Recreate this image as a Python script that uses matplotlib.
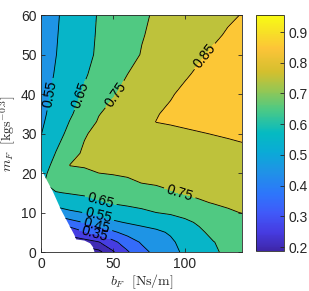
import numpy as np
import matplotlib
matplotlib.use("Agg")
import matplotlib.pyplot as plt
from matplotlib.colors import LinearSegmentedColormap, Normalize
from matplotlib.cm import ScalarMappable
from matplotlib.patches import Polygon

plt.rcParams['font.family'] = ['Liberation Sans', 'DejaVu Sans']
plt.rcParams['mathtext.fontset'] = 'cm'

# sample grid
b_F = [0, 10, 20, 30, 40, 50, 60, 70, 80, 90, 100, 110, 120, 130, 140]
m_F = [0, 2.5, 5, 7.5, 10, 12.5, 15, 17.5, 20, 22, 25, 30, 33, 35, 40, 45, 50, 55, 60]
Z = [
    [0.300, 0.220, 0.190, 0.190, 0.188, 0.240, 0.340, 0.420, 0.477, 0.523, 0.565, 0.603, 0.640, 0.665, 0.680],
    [0.330, 0.240, 0.210, 0.210, 0.246, 0.327, 0.400, 0.461, 0.507, 0.535, 0.580, 0.615, 0.648, 0.672, 0.687],
    [0.380, 0.270, 0.280, 0.343, 0.383, 0.436, 0.481, 0.515, 0.533, 0.560, 0.600, 0.635, 0.672, 0.690, 0.705],
    [0.440, 0.360, 0.415, 0.454, 0.489, 0.535, 0.557, 0.572, 0.588, 0.611, 0.633, 0.661, 0.700, 0.712, 0.727],
    [0.510, 0.500, 0.535, 0.552, 0.577, 0.601, 0.618, 0.633, 0.650, 0.660, 0.677, 0.702, 0.728, 0.743, 0.752],
    [0.575, 0.588, 0.601, 0.615, 0.638, 0.657, 0.667, 0.677, 0.690, 0.703, 0.721, 0.743, 0.753, 0.759, 0.765],
    [0.633, 0.645, 0.656, 0.666, 0.679, 0.692, 0.702, 0.714, 0.729, 0.745, 0.755, 0.762, 0.768, 0.773, 0.779],
    [0.640, 0.687, 0.691, 0.702, 0.714, 0.726, 0.737, 0.751, 0.757, 0.763, 0.769, 0.776, 0.782, 0.787, 0.793],
    [0.617, 0.699, 0.727, 0.738, 0.750, 0.755, 0.760, 0.766, 0.772, 0.778, 0.784, 0.790, 0.796, 0.801, 0.807],
    [0.600, 0.681, 0.752, 0.756, 0.762, 0.767, 0.772, 0.778, 0.784, 0.790, 0.796, 0.802, 0.807, 0.812, 0.818],
    [0.574, 0.653, 0.721, 0.763, 0.781, 0.786, 0.791, 0.796, 0.802, 0.807, 0.813, 0.819, 0.824, 0.829, 0.834],
    [0.549, 0.611, 0.677, 0.743, 0.771, 0.795, 0.818, 0.826, 0.832, 0.837, 0.842, 0.847, 0.852, 0.857, 0.863],
    [0.537, 0.595, 0.654, 0.713, 0.757, 0.782, 0.806, 0.830, 0.851, 0.855, 0.860, 0.865, 0.870, 0.875, 0.881],
    [0.531, 0.585, 0.639, 0.693, 0.747, 0.773, 0.797, 0.821, 0.845, 0.866, 0.873, 0.877, 0.883, 0.888, 0.893],
    [0.521, 0.569, 0.617, 0.662, 0.703, 0.744, 0.770, 0.794, 0.818, 0.842, 0.870, 0.902, 0.913, 0.918, 0.923],
    [0.514, 0.556, 0.599, 0.641, 0.679, 0.714, 0.750, 0.772, 0.794, 0.817, 0.839, 0.866, 0.897, 0.928, 0.953],
    [0.508, 0.548, 0.588, 0.627, 0.663, 0.694, 0.725, 0.754, 0.775, 0.796, 0.817, 0.838, 0.862, 0.893, 0.924],
    [0.505, 0.544, 0.583, 0.623, 0.659, 0.688, 0.717, 0.746, 0.765, 0.783, 0.801, 0.819, 0.837, 0.858, 0.888],
    [0.500, 0.540, 0.579, 0.619, 0.656, 0.683, 0.711, 0.739, 0.759, 0.775, 0.790, 0.805, 0.821, 0.838, 0.853],
]

# edge of the feasible region (white area is left blank)
edge_b = [0, 8, 13.8, 23, 24.2, 30, 34, 36, 37, 140, 140, 0]
edge_m = [20.8, 15.3, 10.6, 4.3, 3.2, 2.9, 2.2, 1.2, 0, 0, 60, 60]

levels = [0.2, 0.25, 0.35, 0.45, 0.55, 0.65, 0.75, 0.85]
# where the inline labels sit, per level
label_spots = {
    0.35: [(37, 4.0)],
    0.45: [(38.5, 6.8)],
    0.55: [(5.5, 40), (39.5, 8.9)],
    0.65: [(26, 40), (41, 12.7)],
    0.75: [(51, 40), (96, 14.2)],
    0.85: [(117, 48.6)],
}

clim = (0.187, 0.955)

parula = LinearSegmentedColormap.from_list('parula', [
    (0.00, (0.243, 0.150, 0.660)),
    (0.08, (0.275, 0.235, 0.885)),
    (0.16, (0.250, 0.350, 0.975)),
    (0.24, (0.180, 0.460, 0.985)),
    (0.34, (0.120, 0.580, 0.900)),
    (0.42, (0.040, 0.670, 0.840)),
    (0.50, (0.020, 0.730, 0.760)),
    (0.60, (0.300, 0.790, 0.520)),
    (0.68, (0.580, 0.780, 0.330)),
    (0.76, (0.830, 0.750, 0.180)),
    (0.86, (0.990, 0.770, 0.220)),
    (0.93, (0.970, 0.880, 0.150)),
    (1.00, (0.976, 0.984, 0.080)),
])
norm = Normalize(*clim)

X, Y = np.meshgrid(b_F, m_F)
Z = np.array(Z)

fig = plt.figure(figsize=(3.09, 2.91), dpi=100)
ax = fig.add_axes([0.134, 0.134, 0.650, 0.814])

# matlab style fill: band colour taken from its lower level
bounds = [Z.min()] + levels + [Z.max() + 0.01]
fills = [parula(norm(v)) for v in bounds[:-1]]
cf = ax.contourf(X, Y, Z, levels=bounds, colors=fills)

clip = Polygon(np.column_stack([edge_b, edge_m]), closed=True, transform=ax.transData)
cf.set_clip_path(clip)

for lev in levels:
    cl = ax.contour(X, Y, Z, levels=[lev], colors='k', linewidths=0.6)
    cl.set_clip_path(clip)
    if lev in label_spots:
        ax.clabel(cl, manual=label_spots[lev], fmt='%.2f', fontsize=10,
                  inline=True, inline_spacing=3)

ax.set_xlim(0, 140)
ax.set_ylim(0, 60)
ax.set_xticks([0, 50, 100])
ax.set_yticks(range(0, 61, 10))
ax.tick_params(direction='in', length=3, width=0.6, top=True, right=True,
               labelsize=10, colors='0.15')
for s in ax.spines.values():
    s.set_linewidth(0.6)
    s.set_color('0.15')
ax.set_xlabel(r'$b_F\ \ [\mathrm{Ns/m}]$', fontsize=10, color='0.15', labelpad=1)
ax.set_ylabel(r'$m_F\ \ [\mathrm{kgs}^{-0.3}]$', fontsize=10, color='0.15', labelpad=2)

cax = fig.add_axes([0.828, 0.137, 0.091, 0.811])
cb = fig.colorbar(ScalarMappable(norm=norm, cmap=parula), cax=cax)
cb.set_ticks([0.2, 0.3, 0.4, 0.5, 0.6, 0.7, 0.8, 0.9])
cb.ax.tick_params(direction='in', length=3, width=0.6, labelsize=10, colors='0.15')
cb.outline.set_linewidth(0.6)
cb.outline.set_edgecolor('0.15')

fig.savefig('out.png', dpi=100)
